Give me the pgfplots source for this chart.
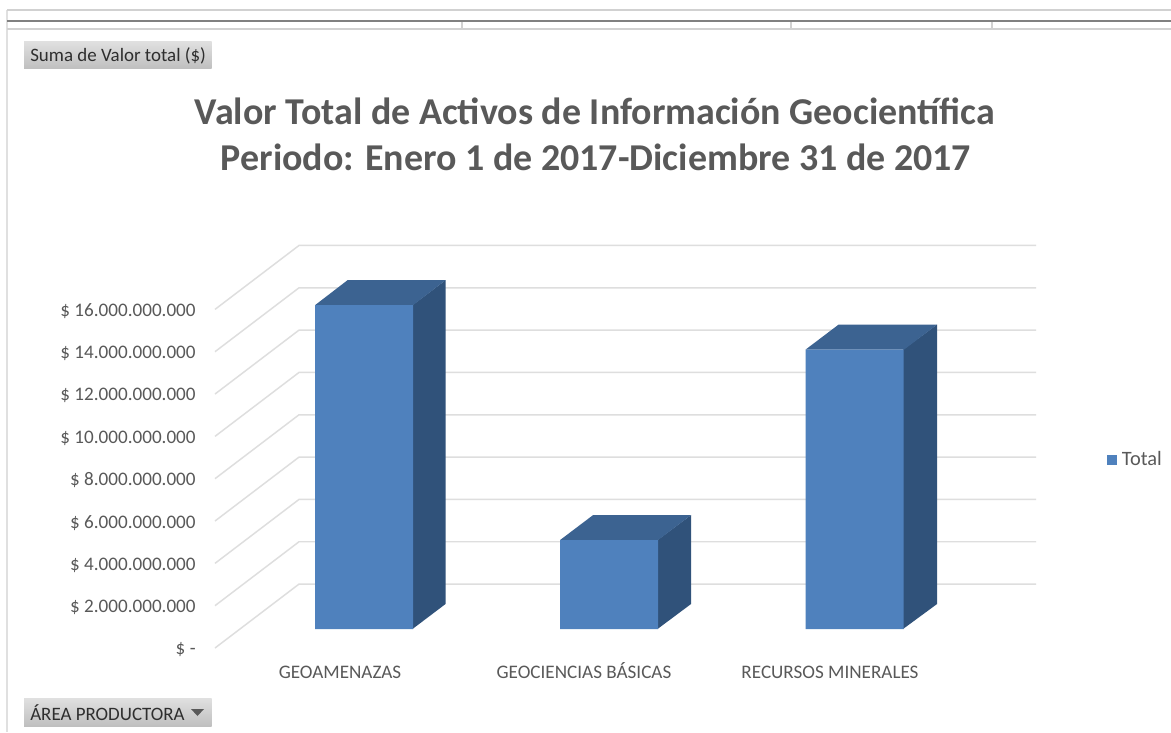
\documentclass[border=0pt]{standalone}
\usepackage{pgfplots}
\pgfplotsset{compat=1.18}
\usepackage{fontspec}
\setmainfont{Carlito}
\definecolor{txt}{HTML}{595959}
\definecolor{front}{HTML}{4F81BD}
\definecolor{side}{HTML}{30527A}
\definecolor{topf}{HTML}{3C6391}
\definecolor{gridc}{HTML}{DEDEDE}
\begin{document}
\begin{tikzpicture}
\begin{scope}[x=0.75pt,y=-0.75pt]
\path[use as bounding box,fill=white] (0,0) rectangle (1171,732);
\draw[color=black!12,line width=1pt] (7,732) -- (7,10);
\draw[color=black!18,line width=1pt] (7,10) -- (1171,10);
\draw[color=black!18,line width=1pt] (7,29) -- (1171,29);
\foreach \x in {462,791,992} \draw[color=black!18,line width=1pt] (\x,21) -- (\x,29);
\draw[color=black!50,line width=0.9pt] (7,21) -- (1171,21);
\shade[top color=black!12,bottom color=black!25] (24,41) rectangle (211.5,68.5);
\node[anchor=west,inner sep=0pt,text=black!82,font=\fontsize{14.2pt}{15pt}\selectfont] at (30,56) {Suma de Valor total (\$)};
\shade[top color=black!12,bottom color=black!25] (24,698) rectangle (211.5,726);
\node[anchor=west,inner sep=0pt,text=black!82,font=\fontsize{14.2pt}{15pt}\selectfont] at (30,713) {ÁREA PRODUCTORA};
\fill[black!65] (191,709) -- (204,709) -- (197.5,716) -- cycle;
\node[text=txt,inner sep=0pt,font=\fontsize{28.45pt}{32pt}\selectfont\bfseries] at (595,111) {Valor Total de Activos de Información Geocientífica};
\node[text=txt,inner sep=0pt,font=\fontsize{28.45pt}{32pt}\selectfont\bfseries] at (596,157) {Periodo: Enero 1 de 2017-Diciembre 31 de 2017};
\end{scope}
\begin{axis}[
  at={(161.25pt,-486pt)},anchor=south west,
  scale only axis,width=615.75pt,height=301.9pt,
  xmin=215,xmax=1036,ymin=0,ymax=19.02e9,
  clip=false,
  axis line style={draw=none},
  tick style={draw=none},
  xtick={340,584,830},
  xticklabels={GEOAMENAZAS,GEOCIENCIAS BÁSICAS,RECURSOS MINERALES},
  ytick={0,2e9,4e9,6e9,8e9,10e9,12e9,14e9,16e9},
  yticklabels={\$ -,\$ 2.000.000.000,\$ 4.000.000.000,\$ 6.000.000.000,\$ 8.000.000.000,\$ 10.000.000.000,\$ 12.000.000.000,\$ 14.000.000.000,\$ 16.000.000.000},
  ticklabel style={text=txt,font=\fontsize{14.35pt}{16pt}\selectfont},
  yticklabel style={xshift=-11pt,yshift=-1.3pt},
  xticklabel style={anchor=base,yshift=-22.8pt},
  scaled y ticks=false,
  legend style={at={(axis cs:1107,8.9e9)},anchor=west,draw=none,fill=none,inner sep=0pt,
    font=\fontsize{15.3pt}{16pt}\selectfont,text=txt},
]
% gridlines: front wall edge, then back wall
\addplot[forget plot,color=gridc,line width=1.1pt,unbounded coords=jump] coordinates {
 (215,0)(299,3.02e9)(1036,3.02e9) (nan,nan)
 (215,2e9)(299,5.02e9)(1036,5.02e9) (nan,nan)
 (215,4e9)(299,7.02e9)(1036,7.02e9) (nan,nan)
 (215,6e9)(299,9.02e9)(1036,9.02e9) (nan,nan)
 (215,8e9)(299,11.02e9)(1036,11.02e9) (nan,nan)
 (215,10e9)(299,13.02e9)(1036,13.02e9) (nan,nan)
 (215,12e9)(299,15.02e9)(1036,15.02e9) (nan,nan)
 (215,14e9)(299,17.02e9)(1036,17.02e9) (nan,nan)
 (215,16e9)(299,19.02e9)(1036,19.02e9)
};
% right side faces (value, plus 1.18e9 for the depth of the bar)
\addplot[forget plot,fill=side,draw=none,yshift=14.25pt] coordinates {(412.5,0)(412.5,15.3e9)(445.5,16.48e9)(445.5,1.18e9)} -- cycle;
\addplot[forget plot,fill=side,draw=none,yshift=14.25pt] coordinates {(657.5,0)(657.5,4.2e9)(691,5.38e9)(691,1.18e9)} -- cycle;
\addplot[forget plot,fill=side,draw=none,yshift=14.25pt] coordinates {(903,0)(903,13.2e9)(937,14.38e9)(937,1.18e9)} -- cycle;
% top faces
\addplot[forget plot,fill=topf,draw=none,yshift=14.25pt] coordinates {(315,15.3e9)(413,15.3e9)(445.5,16.48e9)(347.5,16.48e9)} -- cycle;
\addplot[forget plot,fill=topf,draw=none,yshift=14.25pt] coordinates {(560,4.2e9)(658,4.2e9)(691,5.38e9)(593,5.38e9)} -- cycle;
\addplot[forget plot,fill=topf,draw=none,yshift=14.25pt] coordinates {(805.5,13.2e9)(904,13.2e9)(937,14.38e9)(838.5,14.38e9)} -- cycle;
% front faces: the values
\addplot[ybar,bar width=73.5pt,bar shift=0pt,fill=front,draw=none,yshift=14.25pt,
  legend image code/.code={\fill[front] (-1.5pt,-17.95pt) rectangle (6pt,-10.45pt);}]
  coordinates {(364,15.3e9)(609,4.2e9)(854.5,13.2e9)};
\addlegendentry{\hspace{1.5pt}Total}
\end{axis}
\end{tikzpicture}
\end{document}
